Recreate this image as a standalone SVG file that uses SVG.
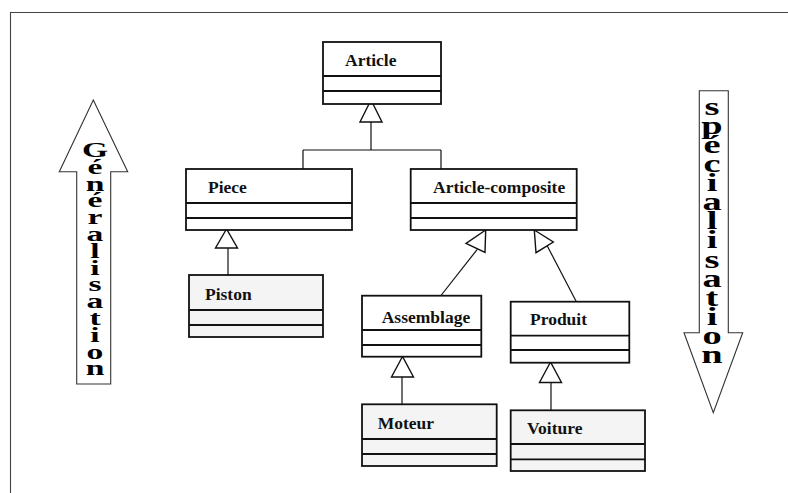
<svg xmlns="http://www.w3.org/2000/svg" width="788" height="493" viewBox="0 0 788 493">
  <style>
    .box { fill: #ffffff; stroke: #111; stroke-width: 1.8; }
    .box.leaf { fill: #f4f4f4; }
    .div { stroke: #111; stroke-width: 1.8; fill: none; }
    .name { font-family: "Liberation Serif", "Times New Roman", serif; font-weight: bold; font-size: 17.5px; fill: #111; }
    .link { stroke: #111; stroke-width: 1.2; fill: none; }
    .head { fill: #fff; stroke: #111; stroke-width: 1.4; stroke-linejoin: miter; }
    .big { fill: #fff; stroke: #333; stroke-width: 1.1; }
    .stack { font-family: "Liberation Serif", "Times New Roman", serif; font-weight: bold; fill: #000; text-anchor: middle; }
    .frame { stroke: #444; stroke-width: 1.1; fill: none; }
  </style>

  <!-- outer frame (top and left edges) -->
  <path class="frame" d="M10.5 493 V12.5 H788"/>

  <!-- direction arrows; letters stacked one per line, squat glyphs -->
  <g id="generalisation">
    <polygon class="big" points="93.3,100 127.7,171.7 110.7,171.7 110.7,384 76.7,384 76.7,171.7 59.3,171.7"/>
    <text class="stack" font-size="28" transform="translate(95,0) scale(1.2,0.78)">
      <tspan x="0" y="201.28">G</tspan><tspan x="0" y="222.82">é</tspan><tspan x="0" y="244.36">n</tspan><tspan x="0" y="265.9">é</tspan><tspan x="0" y="287.44">r</tspan><tspan x="0" y="308.97">a</tspan><tspan x="0" y="330.51">l</tspan><tspan x="0" y="352.05">i</tspan><tspan x="0" y="373.59">s</tspan><tspan x="0" y="395.13">a</tspan><tspan x="0" y="416.67">t</tspan><tspan x="0" y="438.21">i</tspan><tspan x="0" y="459.74">o</tspan><tspan x="0" y="481.28">n</tspan>
    </text>
  </g>

  <g id="specialisation">
    <polygon class="big" points="699.3,90.7 728.3,90.7 728.3,332.7 742.7,332.7 713.3,412.7 684,332.7 699.3,332.7"/>
    <text class="stack" font-size="32" transform="translate(712,0) scale(1.2,0.8)">
      <tspan x="0" y="143.38">s</tspan><tspan x="0" y="167.25">p</tspan><tspan x="0" y="191.13">é</tspan><tspan x="0" y="215">c</tspan><tspan x="0" y="238.88">i</tspan><tspan x="0" y="262.75">a</tspan><tspan x="0" y="286.63">l</tspan><tspan x="0" y="310.5">i</tspan><tspan x="0" y="334.38">s</tspan><tspan x="0" y="358.25">a</tspan><tspan x="0" y="382.13">t</tspan><tspan x="0" y="406">i</tspan><tspan x="0" y="429.88">o</tspan><tspan x="0" y="453.75">n</tspan>
    </text>
  </g>

  <!-- inheritance connectors -->
  <g id="connectors">
    <path class="link" d="M371 122 V150 M303 150 H441 M303 150 V169 M441 150 V169"/>
    <polygon class="head" points="371,100 360,122 382,122"/>

    <path class="link" d="M228 248 V275"/>
    <polygon class="head" points="226.5,229 215.5,248 237.5,248"/>

    <path class="link" d="M477.3 249.3 L441 295.5"/>
    <polygon class="head" points="485.7,230 466,243.3 485,252.3"/>

    <path class="link" d="M547.3 246 L576.5 302"/>
    <polygon class="head" points="534.3,230 553.3,242 536,252.7"/>

    <path class="link" d="M402 377 V404"/>
    <polygon class="head" points="402.5,356.5 391.5,377 413.5,377"/>

    <path class="link" d="M551 382.5 V410"/>
    <polygon class="head" points="550.5,362 539.5,382.5 561.5,382.5"/>
  </g>

  <!-- classes -->
  <g id="article">
    <rect class="box" x="323" y="42" width="118" height="62"/>
    <path class="div" d="M323 76 H441 M323 91 H441"/>
    <text class="name" x="345" y="66">Article</text>
  </g>

  <g id="piece">
    <rect class="box" x="186" y="169" width="166" height="61"/>
    <path class="div" d="M186 203 H352 M186 218 H352"/>
    <text class="name" x="208" y="193">Piece</text>
  </g>

  <g id="article-composite">
    <rect class="box" x="410.7" y="169" width="166" height="61"/>
    <path class="div" d="M410.7 203 H576.7 M410.7 218 H576.7"/>
    <text class="name" x="433" y="193">Article-composite</text>
  </g>

  <g id="piston">
    <rect class="box leaf" x="189" y="275" width="134" height="62"/>
    <path class="div" d="M189 310 H323 M189 325 H323"/>
    <text class="name" x="205" y="300">Piston</text>
  </g>

  <g id="assemblage">
    <rect class="box" x="362" y="295.7" width="119.3" height="61"/>
    <path class="div" d="M362 330 H481.3 M362 345 H481.3"/>
    <text class="name" x="381.7" y="323.3">Assemblage</text>
  </g>

  <g id="produit">
    <rect class="box" x="510.7" y="301.7" width="118.6" height="61"/>
    <path class="div" d="M510.7 335.7 H629.3 M510.7 350 H629.3"/>
    <text class="name" x="530" y="325">Produit</text>
  </g>

  <g id="moteur">
    <rect class="box leaf" x="362" y="404.3" width="134.7" height="61.7"/>
    <path class="div" d="M362 439 H496.7 M362 454 H496.7"/>
    <text class="name" x="377.7" y="429">Moteur</text>
  </g>

  <g id="voiture">
    <rect class="box leaf" x="510.7" y="410.3" width="134.3" height="60.7"/>
    <path class="div" d="M510.7 444 H645 M510.7 459.3 H645"/>
    <text class="name" x="527" y="434">Voiture</text>
  </g>
</svg>
